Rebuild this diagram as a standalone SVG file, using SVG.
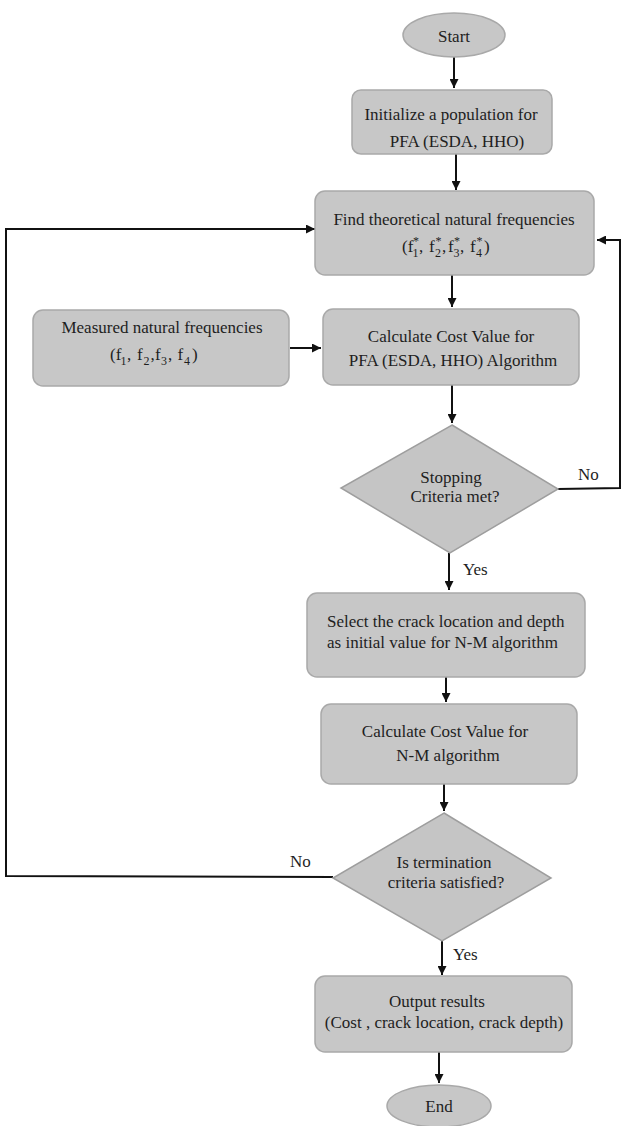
<svg xmlns="http://www.w3.org/2000/svg" width="622" height="1126" viewBox="0 0 622 1126">
<defs>
<style>
.box{fill:#c7c7c7;stroke:#a9a9a9;stroke-width:1.5}
.dia{fill:#c5c5c5;stroke:#9e9e9e;stroke-width:1.5}
.t{font-family:"Liberation Serif","Times New Roman",serif;font-size:17px;fill:#1e1e1e;text-anchor:middle}
.s{text-anchor:start}
.sub{font-family:"Liberation Serif","Times New Roman",serif;font-size:12px;fill:#1e1e1e}
.ln{fill:none;stroke:#111;stroke-width:2}
.ar{fill:none;stroke:#111;stroke-width:2;marker-end:url(#ah)}
</style>
<marker id="ah" viewBox="0 0 10 10" refX="10" refY="5" markerWidth="10" markerHeight="9" markerUnits="userSpaceOnUse" orient="auto">
<path d="M0,0 L10,5 L0,10 z" fill="#111"/>
</marker>
</defs>
<rect width="622" height="1126" fill="#fff"/>

<g id="connectors">
<line class="ar" x1="454" y1="57" x2="454" y2="88"/>
<line class="ar" x1="456" y1="154" x2="456" y2="190"/>
<line class="ar" x1="452" y1="275" x2="452" y2="307"/>
<line class="ar" x1="290" y1="348" x2="321" y2="348"/>
<line class="ar" x1="452" y1="385" x2="452" y2="423"/>
<line class="ar" x1="449" y1="553" x2="449" y2="590"/>
<line class="ar" x1="446" y1="677" x2="446" y2="702"/>
<line class="ar" x1="444" y1="784" x2="444" y2="811"/>
<line class="ar" x1="442" y1="941" x2="442" y2="975"/>
<line class="ar" x1="439" y1="1052" x2="439" y2="1083"/>
<polyline class="ar" points="558,489 620,488 620,240 597,240"/>
<polyline class="ar" points="333,877 6,876 6,229 315,229"/>
</g>

<g id="start">
<ellipse cx="454" cy="35" rx="51" ry="22" class="box"/>
<text class="t" x="454" y="42">Start</text>
</g>

<g id="init">
<rect class="box" x="352" y="90" width="200" height="64" rx="9"/>
<text class="t" x="451" y="120">Initialize a population for</text>
<text class="t" x="457" y="147">PFA (ESDA, HHO)</text>
</g>

<g id="find">
<rect class="box" x="315" y="191" width="279" height="84" rx="10"/>
<text class="t" x="454" y="225">Find theoretical natural frequencies</text>
<text class="t s" y="252"><tspan x="402">(f</tspan><tspan x="419">,</tspan><tspan x="429">f</tspan><tspan x="442">,</tspan><tspan x="448">f</tspan><tspan x="460">,</tspan><tspan x="470">f</tspan><tspan x="484">)</tspan></text>
<text class="sub" y="257"><tspan x="412.5">1</tspan><tspan x="435">2</tspan><tspan x="453.5">3</tspan><tspan x="476">4</tspan></text>
<text class="sub" y="245"><tspan x="413">*</tspan><tspan x="435.5">*</tspan><tspan x="454">*</tspan><tspan x="476.5">*</tspan></text>
</g>

<g id="measured">
<rect class="box" x="33" y="310" width="256" height="76" rx="10"/>
<text class="t" x="162" y="333">Measured natural frequencies</text>
<text class="t s" y="360"><tspan x="110">(f</tspan><tspan x="127">,</tspan><tspan x="137">f</tspan><tspan x="150.5">,</tspan><tspan x="155">f</tspan><tspan x="168">,</tspan><tspan x="177.5">f</tspan><tspan x="192">)</tspan></text>
<text class="sub" y="365" font-size="13"><tspan x="120.5">1</tspan><tspan x="143.5">2</tspan><tspan x="161">3</tspan><tspan x="184">4</tspan></text>
</g>

<g id="calc-pfa">
<rect class="box" x="323" y="309" width="256" height="76" rx="10"/>
<text class="t" x="451" y="342">Calculate Cost Value for</text>
<text class="t" x="453" y="366">PFA (ESDA, HHO) Algorithm</text>
</g>

<g id="stop">
<polygon class="dia" points="452,425 558,489 450,553 341,488"/>
<text class="t" x="451" y="483">Stopping</text>
<text class="t" x="455" y="502">Criteria met?</text>
</g>
<text class="t s" x="578" y="480">No</text>
<text class="t s" x="463" y="575">Yes</text>

<g id="select">
<rect class="box" x="307" y="593" width="278" height="84" rx="10"/>
<text class="t s" x="327" y="627">Select the crack location and depth</text>
<text class="t s" x="327" y="648">as initial value for N-M algorithm</text>
</g>

<g id="calc-nm">
<rect class="box" x="321" y="704" width="256" height="80" rx="10"/>
<text class="t" x="445" y="737">Calculate Cost Value for</text>
<text class="t" x="448" y="761">N-M algorithm</text>
</g>

<g id="term">
<polygon class="dia" points="444,813 551,878 442,941 333,878"/>
<text class="t" x="444" y="868">Is termination</text>
<text class="t" x="446" y="888">criteria satisfied?</text>
</g>
<text class="t s" x="290" y="867">No</text>
<text class="t s" x="453" y="960">Yes</text>

<g id="output">
<rect class="box" x="315" y="976" width="257" height="76" rx="10"/>
<text class="t" x="437" y="1007">Output results</text>
<text class="t" x="444" y="1028">(Cost , crack location, crack depth)</text>
</g>

<g id="end">
<ellipse cx="439" cy="1106" rx="52" ry="21" class="box"/>
<text class="t" x="439" y="1112">End</text>
</g>
</svg>
